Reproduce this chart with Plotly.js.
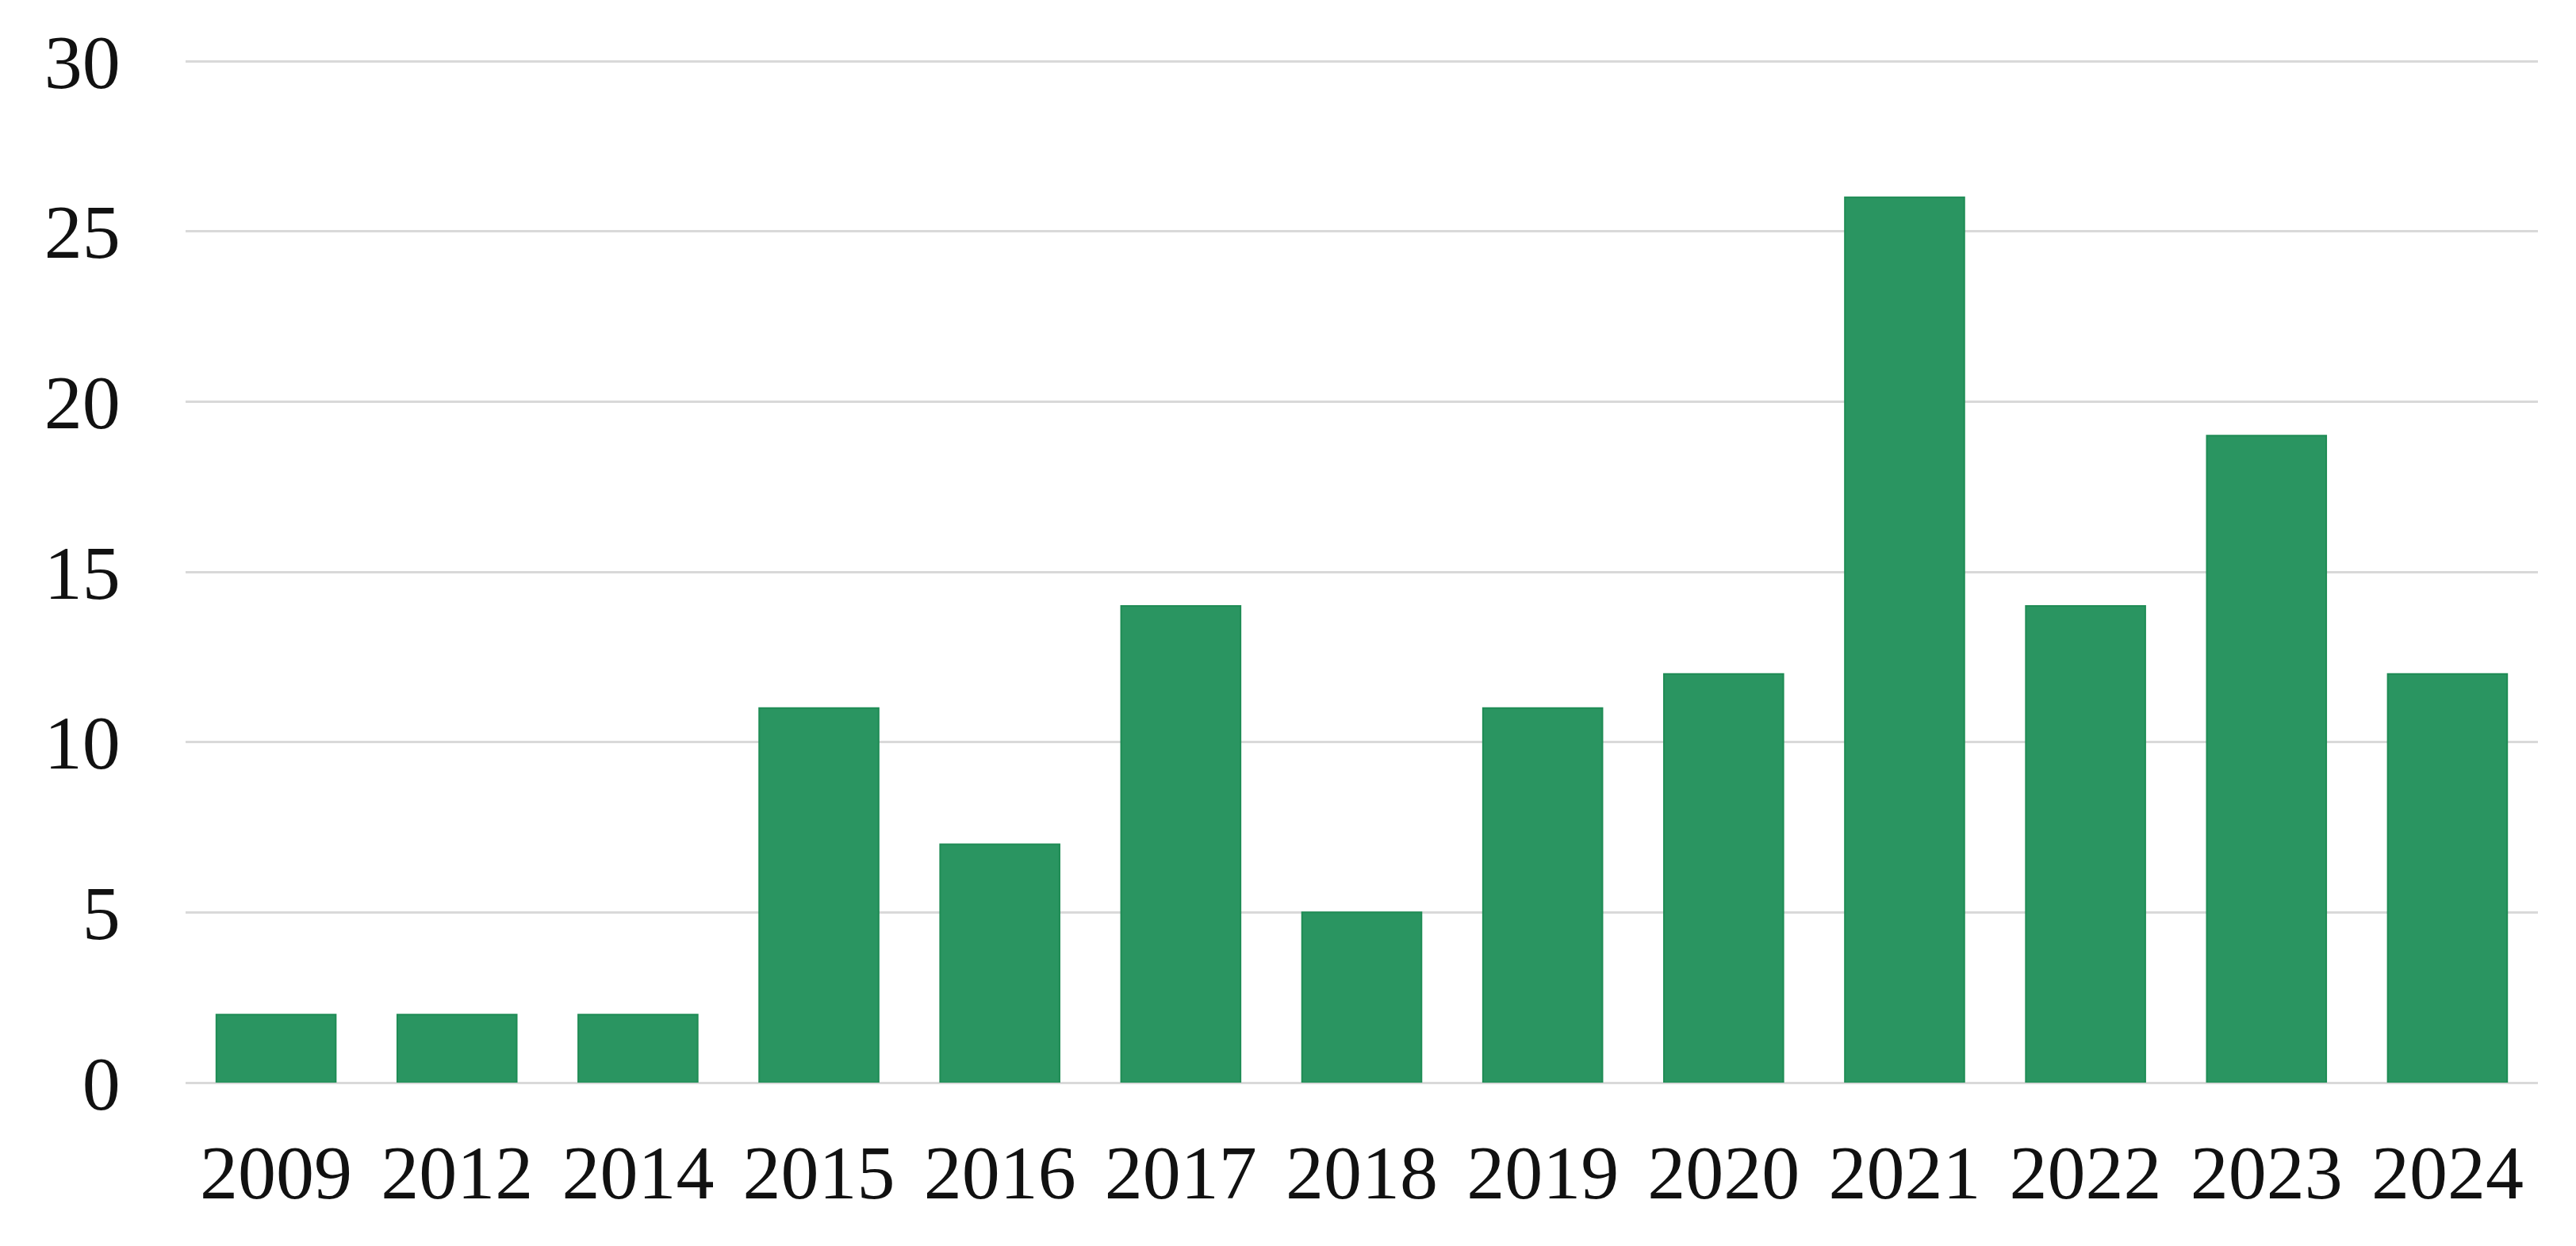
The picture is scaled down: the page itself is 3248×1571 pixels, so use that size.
<!DOCTYPE html>
<html>
<head>
<meta charset="utf-8">
<script src="https://cdn.plot.ly/plotly-3.0.1.min.js"></script>
<style>
html,body{margin:0;padding:0;background:#fff;}
#chart{width:3248px;height:1571px;}
</style>
</head>
<body>
<div id="chart"></div>
<script>
const years = ["2009","2012","2014","2015","2016","2017","2018","2019","2020","2021","2022","2023","2024"];
const counts = [2,2,2,11,7,14,5,11,12,26,14,19,12];
const yTicks = [0,5,10,15,20,25,30];

const trace = {
  type: 'bar',
  x: years,
  y: counts,
  marker: {color: '#2A9561', line: {color: '#1F8C55', width: 2}},
  hoverinfo: 'x+y'
};

const font = {family: '"Liberation Serif", "Times New Roman", serif', size: 96, color: '#111111'};

const layout = {
  width: 3248,
  height: 1571,
  margin: {l: 234, r: 48, t: 72, b: 206},
  paper_bgcolor: '#ffffff',
  plot_bgcolor: '#ffffff',
  bargap: 0.34,
  showlegend: false,
  font: font,
  xaxis: {
    type: 'category',
    tickfont: font,
    showgrid: false,
    showline: false,
    zeroline: false,
    ticks: 'outside',
    ticklen: 30,
    tickcolor: 'rgba(0,0,0,0)'
  },
  yaxis: {
    range: [0, 30.12],
    tickvals: yTicks,
    ticktext: yTicks.map(String),
    tickfont: font,
    showgrid: true,
    gridcolor: '#D9D9D9',
    gridwidth: 3,
    zeroline: true,
    zerolinecolor: '#D9D9D9',
    zerolinewidth: 3,
    showline: false,
    ticks: 'outside',
    ticklen: 62,
    tickcolor: 'rgba(0,0,0,0)'
  }
};

Plotly.newPlot('chart', [trace], layout, {displayModeBar: false, staticPlot: true});
</script>
</body>
</html>
